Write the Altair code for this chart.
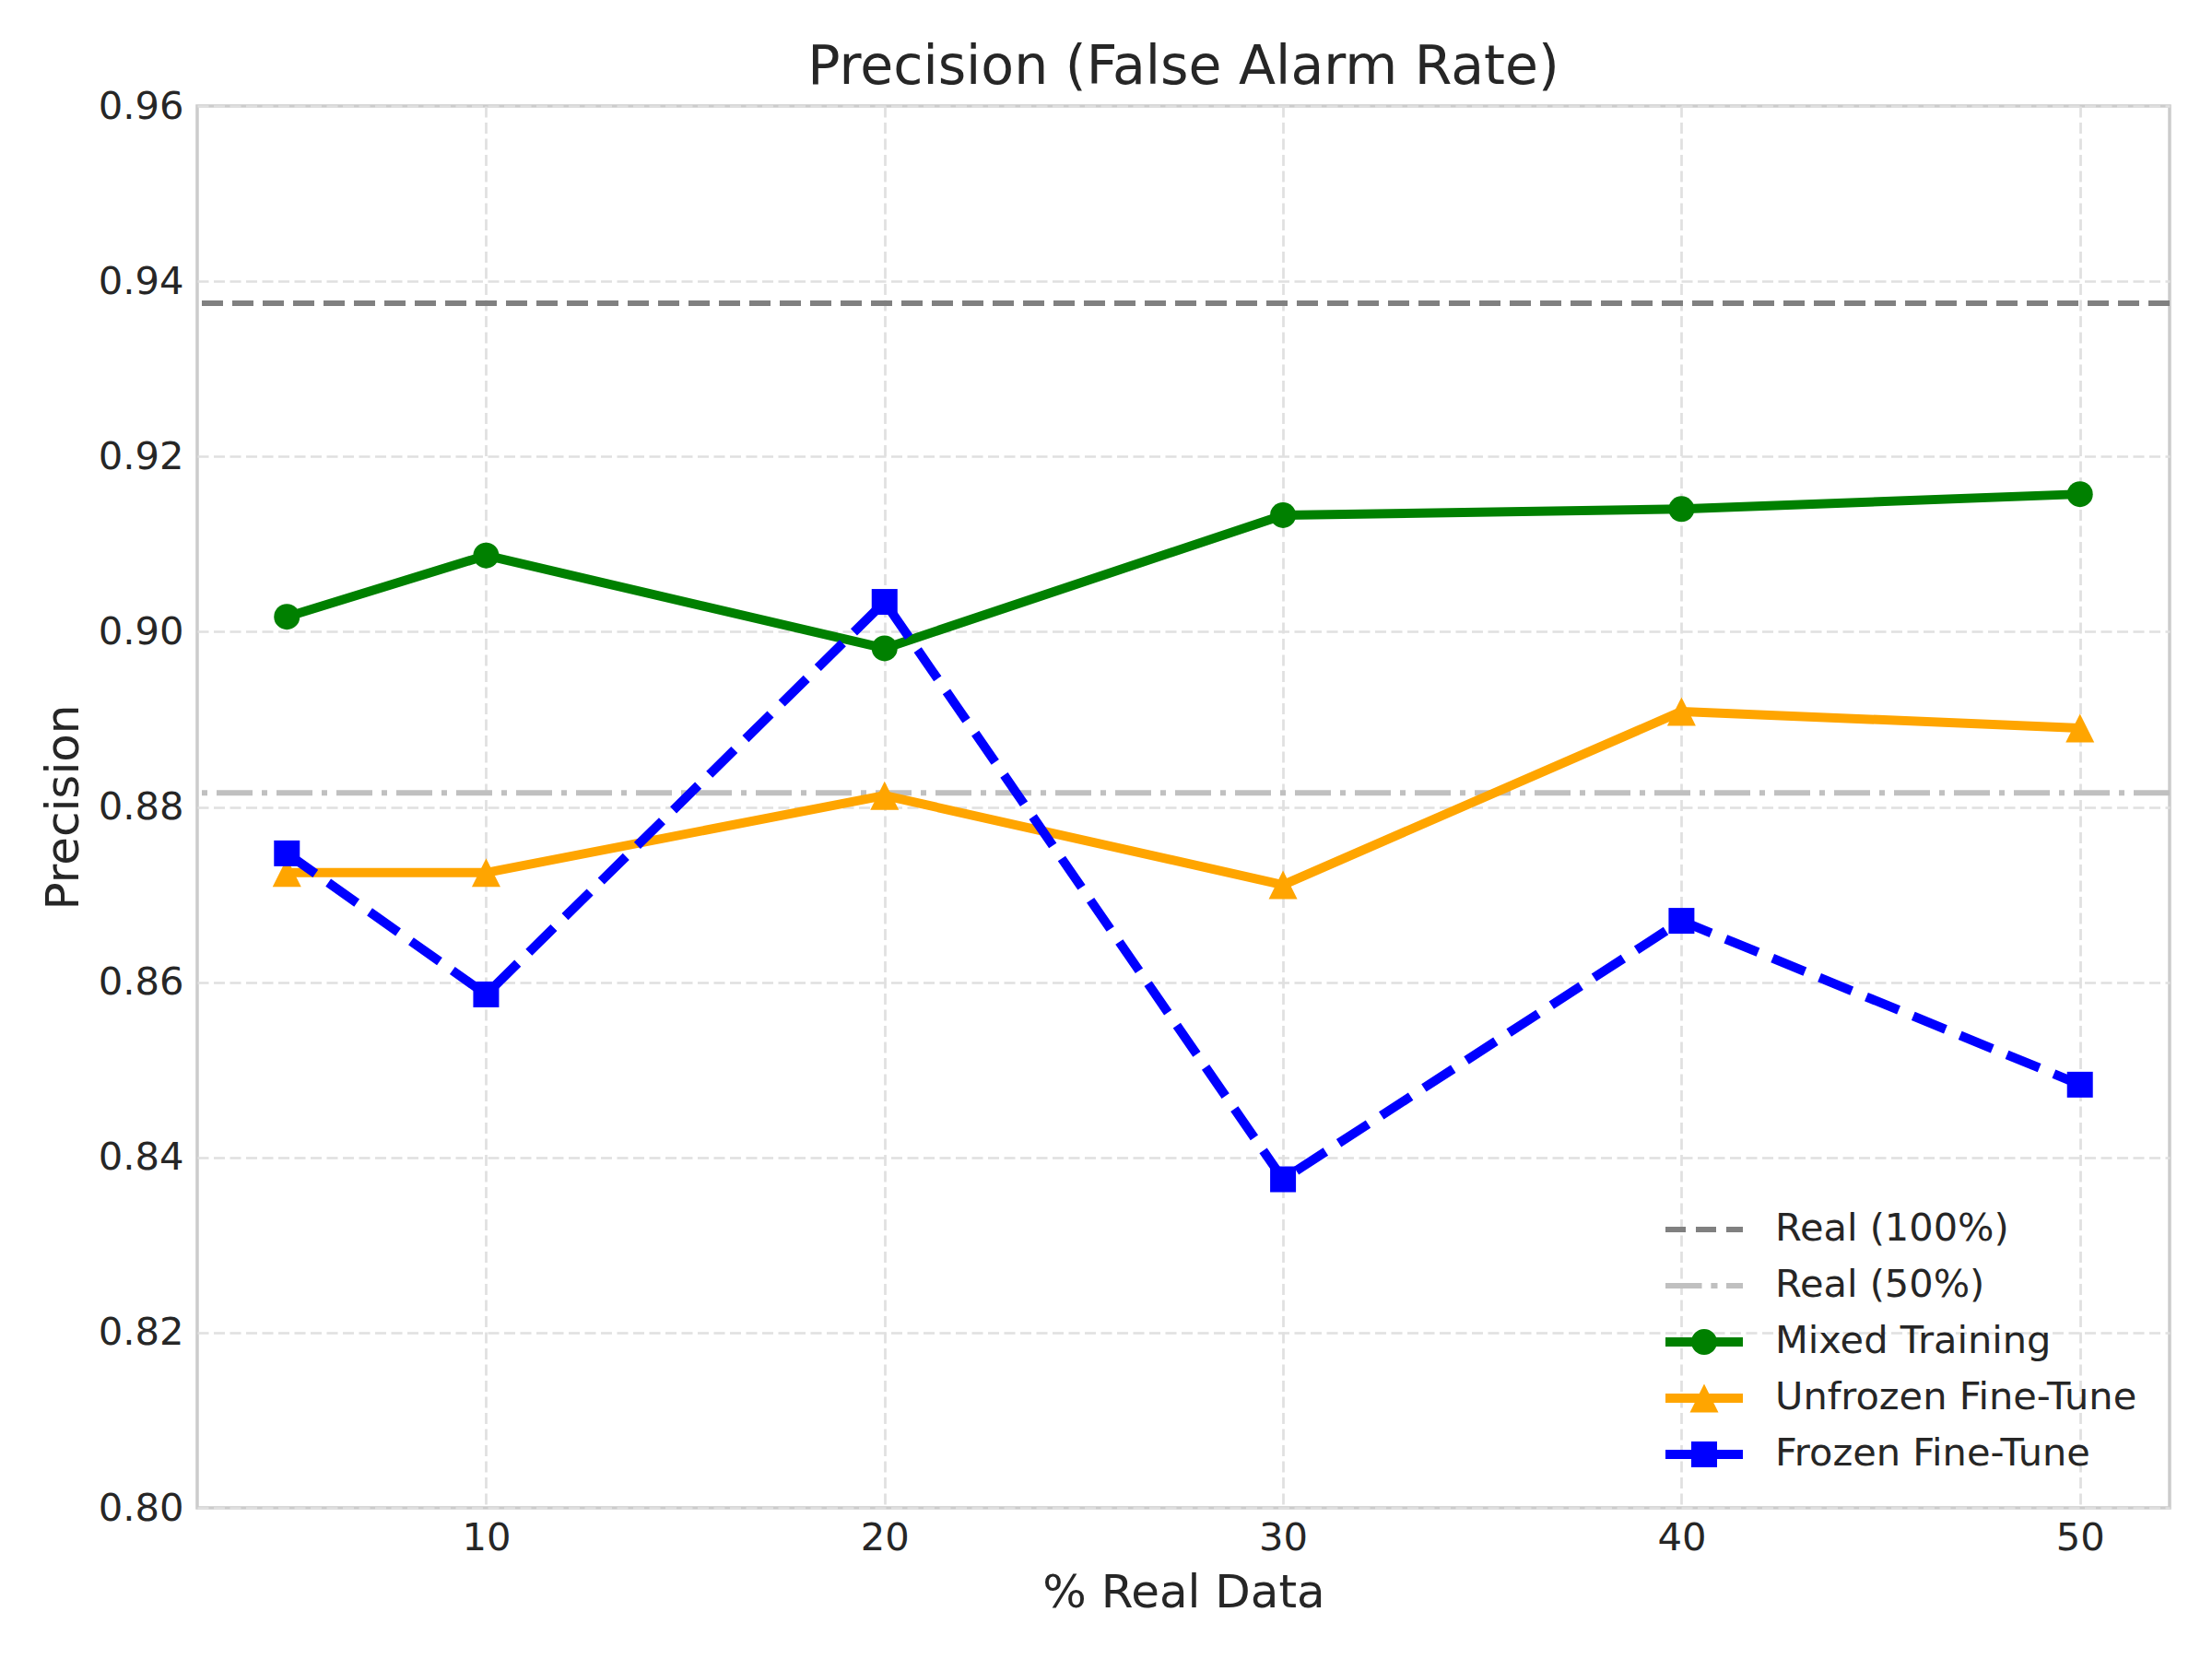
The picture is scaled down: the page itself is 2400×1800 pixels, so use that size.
import altair as alt
import pandas as pd

# ---------------- data ----------------
x_values = [5, 10, 20, 30, 40, 50]
mixed_training = [0.9017, 0.9087, 0.8981, 0.9133, 0.9140, 0.9157]
unfrozen_finetune = [0.8725, 0.8725, 0.8813, 0.8711, 0.8909, 0.8890]
frozen_finetune = [0.8747, 0.8586, 0.9034, 0.8375, 0.8670, 0.8483]

series_names = ["Mixed Training", "Unfrozen Fine-Tune", "Frozen Fine-Tune"]
ref_labels = ["Real (100%)", "Real (50%)"]
ref_values = [0.9375, 0.8816]

x_ticks = [10, 20, 30, 40, 50]
y_ticks = [0.80, 0.82, 0.84, 0.86, 0.88, 0.90, 0.92, 0.94, 0.96]

legend_labels = ref_labels + series_names

rows = []
for name, vals in zip(series_names, [mixed_training, unfrozen_finetune, frozen_finetune]):
    for xv, yv in zip(x_values, vals):
        rows.append({"series": name, "pct": xv, "precision": yv})
df = pd.DataFrame(rows)
ref_df = pd.DataFrame({"label": ref_labels, "value": ref_values})
leg_df = pd.DataFrame({"label": legend_labels})

# ---------------- styles ----------------
FONT = "DejaVu Sans"
TEXT = "#262626"

x_scale = alt.Scale(domain=[2.75, 52.25], nice=False, zero=False)
y_scale = alt.Scale(domain=[0.80, 0.96], nice=False, zero=False)
x_axis = alt.Axis(values=x_ticks, format="d", title="% Real Data",
                  labelPadding=12, titlePadding=14)
y_axis = alt.Axis(values=y_ticks, format=".2f", title="Precision",
                  labelPadding=15, titlePadding=12)

ref_styles = {
    "Real (100%)": dict(color="#808080", dash=[23, 10]),
    "Real (50%)": dict(color="#c0c0c0", dash=[39, 10, 6, 10]),
}
TRI = "M0,-1L1,1L-1,1Z"
series_styles = {
    "Mixed Training": dict(color="#008000", dash=None, shape="circle", size=784),
    "Unfrozen Fine-Tune": dict(color="#ffa500", dash=None, shape=TRI, size=961),
    "Frozen Fine-Tune": dict(color="#0000ff", dash=[38, 17], shape="square", size=784),
}


def rect(x0, x1, h):
    return f"M{x0},{-h}L{x1},{-h}L{x1},{h}L{x0},{h}Z"


circle_p = "M-0.667,0A0.667,0.667,0,1,1,0.667,0A0.667,0.667,0,1,1,-0.667,0Z"
tri_p = "M0,-0.738L0.738,0.738L-0.738,0.738Z"
sq_p = "M-0.667,-0.667L0.667,-0.667L0.667,0.667L-0.667,0.667Z"
legend_paths = [
    rect(-2, -0.952, 0.143) + rect(-0.429, 0.619, 0.143) + rect(1.143, 2, 0.143),
    rect(-2, -0.119, 0.143) + rect(0.352, 0.69, 0.143) + rect(1.143, 2, 0.143),
    rect(-2, 2, 0.238) + circle_p,
    rect(-2, 2, 0.238) + tri_p,
    rect(-2, 2, 0.238) + sq_p,
]
legend_colors = ["#808080", "#c0c0c0", "#008000", "#ffa500", "#0000ff"]

# ---------------- layers ----------------
layers = []
for lab in ref_labels:
    st = ref_styles[lab]
    layers.append(
        alt.Chart(ref_df).transform_filter(alt.datum.label == lab)
        .mark_rule(color=st["color"], strokeWidth=6, strokeDash=st["dash"])
        .encode(y=alt.Y("value:Q", scale=y_scale, axis=y_axis))
    )

for name in series_names:
    st = series_styles[name]
    base = alt.Chart(df).transform_filter(alt.datum.series == name).encode(
        x=alt.X("pct:Q", scale=x_scale, axis=x_axis),
        y=alt.Y("precision:Q", scale=y_scale, axis=y_axis),
    )
    line_kw = dict(color=st["color"], strokeWidth=10, strokeJoin="round")
    if st["dash"]:
        line_kw["strokeDash"] = st["dash"]
    layers.append(base.mark_line(**line_kw))
    layers.append(base.mark_point(filled=True, opacity=1, strokeWidth=0,
                                  color=st["color"], shape=st["shape"], size=st["size"]))

leg = alt.Legend(
    title=None, orient="none", legendX=1614, legendY=1198, padding=0,
    rowPadding=19, labelOffset=56, symbolSize=1764, symbolStrokeWidth=0,
    symbolOpacity=1, labelFont=FONT, labelFontSize=41.5, labelColor=TEXT,
    labelLimit=1000,
)
layers.append(
    alt.Chart(leg_df).mark_point(filled=True, opacity=0).encode(
        color=alt.Color("label:N", scale=alt.Scale(domain=legend_labels, range=legend_colors), legend=leg),
        shape=alt.Shape("label:N", scale=alt.Scale(domain=legend_labels, range=legend_paths), legend=leg),
    )
)

chart = (
    alt.layer(*layers)
    .properties(
        width=2140, height=1521,
        title=alt.Title("Precision (False Alarm Rate)"),
        autosize=alt.AutoSizeParams(type="none"),
        padding={"left": 206, "top": 107, "right": 38, "bottom": 156},
    )
    .configure_view(stroke="#cccccc", strokeWidth=3.5)
    .configure_axis(
        labelFont=FONT, labelFontSize=41.7, labelColor=TEXT,
        titleFont=FONT, titleFontSize=50, titleFontWeight="normal", titleColor=TEXT,
        ticks=False, domain=False,
        gridColor="#e0e0e0", gridDash=[12, 5.5], gridWidth=2.7,
    )
    .configure_title(font=FONT, fontSize=58.5, fontWeight="normal", color=TEXT,
                     anchor="middle", offset=-8)
)

chart.save("out.html", embed_options={"renderer": "svg", "actions": False})
